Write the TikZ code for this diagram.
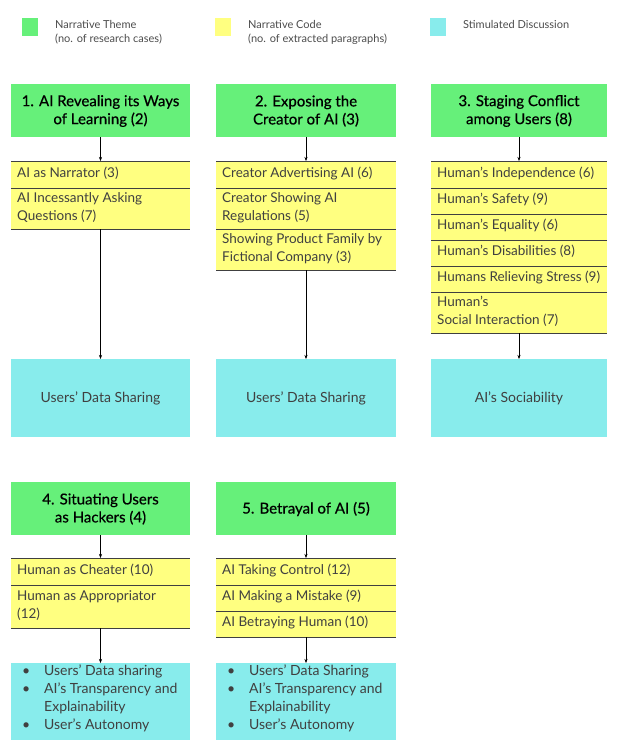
\documentclass[tikz,border=0pt]{standalone}
\usepackage{fontspec}
\setmainfont{Lato}
\newfontfamily\themefont[FakeBold=0.5]{Lato}
\usetikzlibrary{arrows.meta}
\definecolor{gr}{HTML}{66F07A}
\definecolor{ye}{HTML}{FFFF80}
\definecolor{cy}{HTML}{88ECEC}
\tikzset{
 x=1pt,y=-1pt,
 theme/.style={fill=none,draw=none,align=center,font=\themefont\fontsize{15}{18}\selectfont},
 cell/.style={fill=none,draw=none,align=left,anchor=north west,inner sep=0pt,font=\fontsize{13.5}{18}\selectfont\color{black!75}},
 disc/.style={fill=none,draw=none,align=center,font=\fontsize{14}{18}\selectfont\color{black!75}},
 arr/.style={-{Stealth[length=4pt,width=3pt]},thin},
 leg/.style={anchor=north west,align=left,inner sep=0pt,font=\fontsize{11}{14}\selectfont\color{black!70}},
}
\begin{document}
\begin{tikzpicture}
\useasboundingbox[fill=white] (0,0) rectangle (619,750);
% legend
\fill[gr] (22,18) rectangle (38,36);
\fill[ye] (215,18) rectangle (231,36);
\fill[cy] (430,18) rectangle (446,36);
\node[leg] (l1) at (55,20) {Narrative Theme\\(no. of research cases)};
\node[leg] (l2) at (248,20) {Narrative Code\\(no. of extracted paragraphs)};
\node[leg] (l3) at (463,20) {Stimulated Discussion};
% themes
\fill[gr] (11,84) rectangle (190,137); \node[theme] (t1) at (100.5,111) {1. AI Revealing its Ways\\of Learning (2)};
\fill[gr] (216,84) rectangle (396,137); \node[theme] (t2) at (306,111) {2. Exposing the\\Creator of AI (3)};
\fill[gr] (431,84) rectangle (607,137); \node[theme] (t3) at (519,111) {3. Staging Conflict\\among Users (8)};
\fill[gr] (11,482) rectangle (190,535); \node[theme] (t4) at (100.5,509) {4. Situating Users\\as Hackers (4)};
\fill[gr] (216,482) rectangle (396,535); \node[theme] (t5) at (306,509) {5. Betrayal of AI (5)};
% yellow cells
\fill[ye] (11,161) rectangle (190,229);
\fill[ye] (216,161) rectangle (396,270);
\fill[ye] (431,161) rectangle (607,333);
\fill[ye] (11,558) rectangle (190,628);
\fill[ye] (216,558) rectangle (396,637);
\foreach \y in {161,188,229} \draw[black!75] (11,\y) -- (190,\y);
\foreach \y in {161,188,229,270} \draw[black!75] (216,\y) -- (396,\y);
\foreach \y in {161,188,214,240,266,292,333} \draw[black!75] (431,\y) -- (607,\y);
\foreach \y in {558,585,628} \draw[black!75] (11,\y) -- (190,\y);
\foreach \y in {558,585,611,637} \draw[black!75] (216,\y) -- (396,\y);
\node[cell] (c11) at (17,167) {AI as Narrator (3)};
\node[cell] (c12) at (17,192) {AI Incessantly Asking\\Questions (7)};
\node[cell] (c21) at (222,167) {Creator Advertising AI (6)};
\node[cell] (c22) at (222,192) {Creator Showing AI\\Regulations (5)};
\node[cell] (c23) at (222,233) {Showing Product Family by\\Fictional Company (3)};
\node[cell] (c31) at (437,167) {Human's Independence (6)};
\node[cell] (c32) at (437,193) {Human's Safety (9)};
\node[cell] (c33) at (437,219) {Human's Equality (6)};
\node[cell] (c34) at (437,245) {Human's Disabilities (8)};
\node[cell] (c35) at (437,271) {Humans Relieving Stress (9)};
\node[cell] (c36) at (437,296) {Human's\\Social Interaction (7)};
\node[cell] (c41) at (17,564) {Human as Cheater (10)};
\node[cell] (c42) at (17,590) {Human as Appropriator\\(12)};
\node[cell] (c51) at (222,564) {AI Taking Control (12)};
\node[cell] (c52) at (222,590) {AI Making a Mistake (9)};
\node[cell] (c53) at (222,616) {AI Betraying Human (10)};
% discussions
\fill[cy] (11,359) rectangle (190,437); \node[disc] (d1) at (100.5,398) {Users' Data Sharing};
\fill[cy] (216,359) rectangle (396,437); \node[disc] (d2) at (306,398) {Users' Data Sharing};
\fill[cy] (431,359) rectangle (607,437); \node[disc] (d3) at (519,398) {AI's Sociability};
\fill[cy] (11,663) rectangle (190,740);
\fill[cy] (216,663) rectangle (396,740);
\node[disc,align=left,anchor=north west,inner sep=0pt] (d4) at (22,665) {\makebox[22pt][l]{•}Users' Data sharing\\\makebox[22pt][l]{•}AI's Transparency and\\\makebox[22pt][l]{}Explainability\\\makebox[22pt][l]{•}User's Autonomy};
\node[disc,align=left,anchor=north west,inner sep=0pt] (d5) at (227,665) {\makebox[22pt][l]{•}Users' Data Sharing\\\makebox[22pt][l]{•}AI's Transparency and\\\makebox[22pt][l]{}Explainability\\\makebox[22pt][l]{•}User's Autonomy};
% arrows
\coordinate (a1) at (100.5,137); \coordinate (b1) at (100.5,161);
\coordinate (a2) at (306,137); \coordinate (b2) at (306,161);
\coordinate (a3) at (519,137); \coordinate (b3) at (519,161);
\coordinate (a4) at (100.5,535); \coordinate (b4) at (100.5,558);
\coordinate (a5) at (306,535); \coordinate (b5) at (306,558);
\coordinate (e1) at (100.5,229); \coordinate (f1) at (100.5,359);
\coordinate (e2) at (306,270); \coordinate (f2) at (306,359);
\coordinate (e3) at (519,333); \coordinate (f3) at (519,359);
\coordinate (e4) at (100.5,628); \coordinate (f4) at (100.5,663);
\coordinate (e5) at (306,637); \coordinate (f5) at (306,663);
\foreach \i in {1,...,5}{\draw[arr] (a\i) -- (b\i); \draw[arr] (e\i) -- (f\i);}
\end{tikzpicture}
\end{document}
